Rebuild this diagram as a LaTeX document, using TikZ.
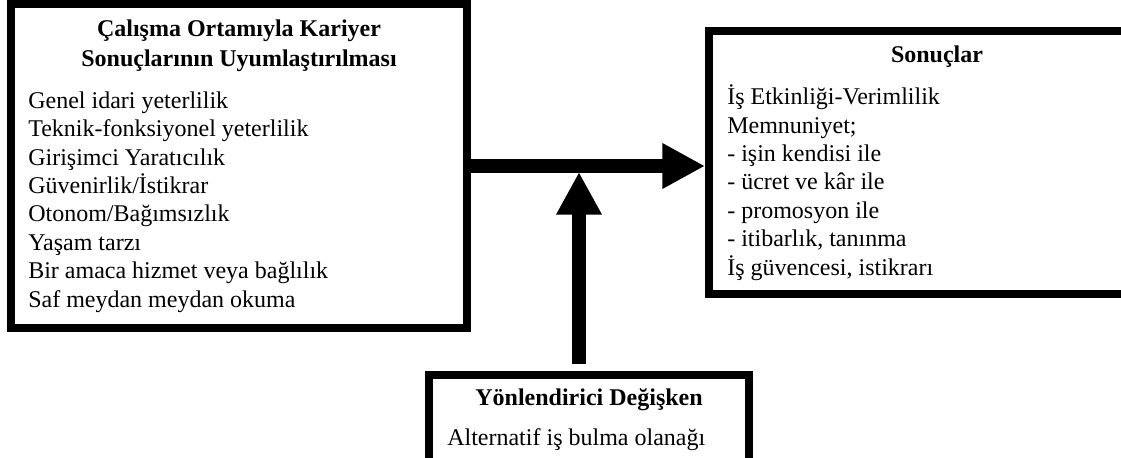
\documentclass[tikz,border=0pt]{standalone}
\usepackage{fontspec}
\setmainfont{Liberation Serif}
\usetikzlibrary{arrows.meta, fit}
\tikzset{
  box/.style = {draw, line width=6pt, inner sep=0pt},
  head/.style = {font=\bfseries\fontsize{18}{22.5}\selectfont, align=center, inner sep=0pt, anchor=base},
  items/.style = {font=\fontsize{18}{21.3}\selectfont, align=left, inner sep=0pt, anchor=base west},
  bigarrow/.style = {line width=10.5pt, -{Triangle[length=32pt, width=32pt]}}
}

\begin{document}
\begin{tikzpicture}[x=0.75pt, y=-0.75pt]
\clip (0,0) rectangle (1121,457);

\node[box, fit={(11,4) (467,328)}] (career) {};
\node[box, fit={(709,31) (1135,294)}] (results) {};
\node[box, fit={(428.5,374.5) (749,480)}] (moderator) {};

\node[head] (careerhead) at (239,66) {Çalışma Ortamıyla Kariyer\\Sonuçlarının Uyumlaştırılması};
\node[items] (careeritems) at (28,307) {Genel idari yeterlilik\\
Teknik-fonksiyonel yeterlilik\\
Girişimci Yaratıcılık\\
Güvenirlik/İstikrar\\
Otonom/Bağımsızlık\\
Yaşam tarzı\\
Bir amaca hizmet veya bağlılık\\
Saf meydan meydan okuma};

\node[head] (resultshead) at (937,62) {Sonuçlar};
\node[items] (resultsitems) at (727,275) {İş Etkinliği-Verimlilik\\
Memnuniyet;\\
- işin kendisi ile\\
- ücret ve kâr ile\\
- promosyon ile\\
- itibarlık, tanınma\\
İş güvencesi, istikrarı};

\node[head] (moderatorhead) at (589,405) {Yönlendirici Değişken};
\node[items] (moderatoritems) at (447,445) {Alternatif iş bulma olanağı};

\coordinate (meet) at (579,172);
\draw[bigarrow] (career.east) -- (career.east -| results.west);
\draw[bigarrow, shorten <=5pt] (meet |- moderator.north) -- (meet);
\end{tikzpicture}
\end{document}
